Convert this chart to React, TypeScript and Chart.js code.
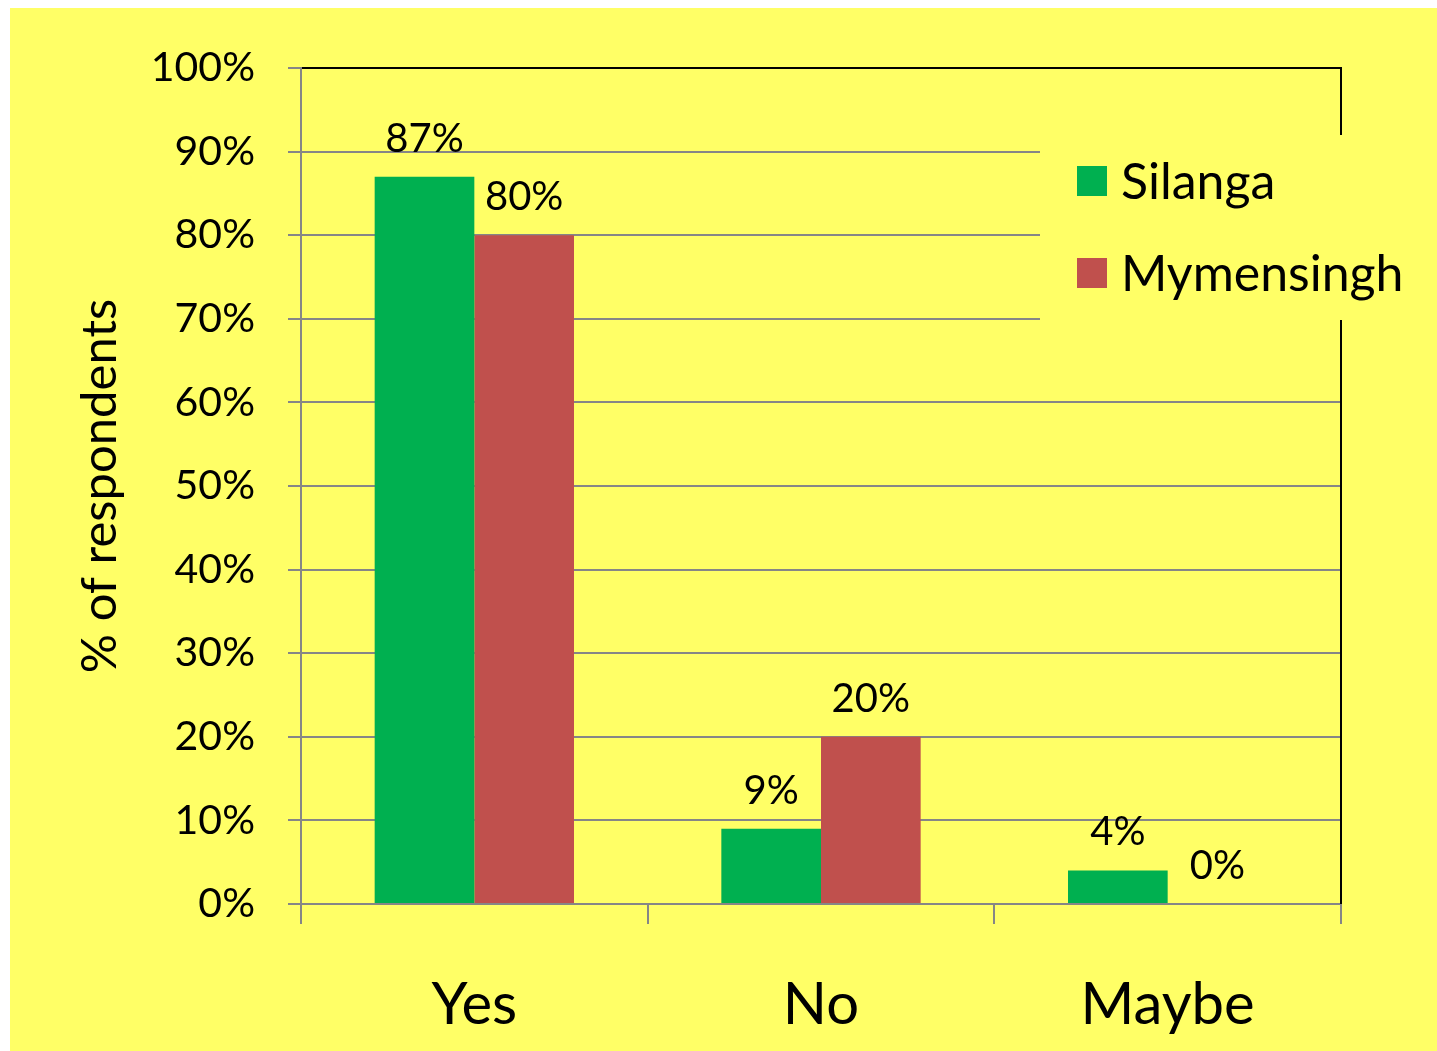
import React, { useEffect, useRef } from "react";
import { Chart, registerables } from "chart.js";

Chart.register(...registerables);

const categories = ["Yes", "No", "Maybe"];
const seriesNames = ["Silanga", "Mymensingh"];
const silangaValues = [87, 9, 4];
const mymensinghValues = [80, 20, 0];
const seriesColors = ["#00B050", "#C0504D"];
const yAxisTitle = "% of respondents";
const yMin = 0;
const yMax = 100;
const yStep = 10;

const FONT = "Lato";
const BG = "#FFFF66";

const labelsPlugin = {
  id: "valueLabels",
  afterDatasetsDraw(chart: any) {
    const ctx = chart.ctx;
    ctx.save();
    ctx.font = `40px ${FONT}`;
    ctx.fillStyle = "#000";
    ctx.textAlign = "center";
    ctx.textBaseline = "middle";
    chart.data.datasets.forEach((ds: any, di: number) => {
      const meta = chart.getDatasetMeta(di);
      meta.data.forEach((bar: any, i: number) => {
        ctx.fillText(ds.data[i] + "%", bar.x, bar.y - 38);
      });
    });
    ctx.restore();
  },
};

const framePlugin = {
  id: "frame",
  afterDatasetsDraw(chart: any) {
    const { ctx, chartArea } = chart;
    ctx.save();
    ctx.strokeStyle = "#000";
    ctx.lineWidth = 2;
    ctx.beginPath();
    ctx.moveTo(chartArea.left + 1, chartArea.top);
    ctx.lineTo(chartArea.right, chartArea.top);
    ctx.lineTo(chartArea.right, chartArea.bottom);
    ctx.stroke();
    ctx.restore();
  },
};

const legendPlugin = {
  id: "customLegend",
  afterDraw(chart: any) {
    const ctx = chart.ctx;
    ctx.save();
    ctx.fillStyle = BG;
    ctx.fillRect(1030, 127, 400, 185);
    ctx.font = `50px ${FONT}`;
    ctx.textAlign = "left";
    ctx.textBaseline = "middle";
    chart.data.datasets.forEach((ds: any, i: number) => {
      const cy = 173 + i * 92;
      ctx.fillStyle = ds.backgroundColor;
      ctx.fillRect(1067, cy - 15, 30, 30);
      ctx.fillStyle = "#000";
      ctx.fillText(ds.label, 1111, cy + 2);
    });
    ctx.restore();
  },
};

export default function App() {
  const ref = useRef<HTMLCanvasElement | null>(null);

  useEffect(() => {
    let chart: Chart | null = null;
    let cancelled = false;
    const build = () => {
      if (cancelled || !ref.current) return;
      chart = new Chart(ref.current, {
        type: "bar",
        data: {
          labels: categories,
          datasets: [
            {
              label: seriesNames[0],
              data: silangaValues,
              backgroundColor: seriesColors[0],
              categoryPercentage: 0.575,
              barPercentage: 1,
            },
            {
              label: seriesNames[1],
              data: mymensinghValues,
              backgroundColor: seriesColors[1],
              categoryPercentage: 0.575,
              barPercentage: 1,
            },
          ],
        },
        options: {
          animation: false,
          responsive: false,
          maintainAspectRatio: false,
          layout: { padding: { left: 0, top: 60, right: 96, bottom: 0 } },
          plugins: {
            legend: { display: false },
            tooltip: { enabled: false },
          },
          scales: {
            y: {
              min: yMin,
              max: yMax,
              ticks: {
                stepSize: yStep,
                callback: (v: any) => v + "%",
                font: { family: FONT, size: 41 },
                color: "#000",
                padding: 33,
              },
              grid: {
                color: "#868686",
                lineWidth: 2,
                tickLength: 13,
              },
              border: { display: true, color: "#868686", width: 2 },
              title: {
                display: true,
                text: yAxisTitle,
                font: { family: FONT, size: 49 },
                color: "#000",
                padding: { top: 61, bottom: 0 },
              },
              afterFit: (s: any) => {
                s.width = 291;
              },
            },
            x: {
              ticks: {
                font: { family: FONT, size: 58 },
                color: "#000",
                padding: 46,
              },
              grid: {
                offset: true,
                drawOnChartArea: false,
                color: "#868686",
                lineWidth: 2,
                tickLength: 20,
              },
              border: { display: true, color: "#868686", width: 2 },
              afterFit: (s: any) => {
                s.height = 147;
              },
            },
          },
        },
        plugins: [labelsPlugin, framePlugin, legendPlugin],
      });
    };
    const fontsApi = (document as any).fonts;
    if (fontsApi && fontsApi.load) {
      Promise.all([fontsApi.load(`40px ${FONT}`), fontsApi.load(`58px ${FONT}`)])
        .then(build, build);
    } else {
      build();
    }
    return () => {
      cancelled = true;
      if (chart) chart.destroy();
    };
  }, []);

  return (
    <div
      style={{
        position: "fixed",
        left: 10,
        top: 8,
        width: 1427,
        height: 1043,
        background: BG,
      }}
    >
      <canvas ref={ref} width={1427} height={1043} style={{ display: "block" }} />
    </div>
  );
}
